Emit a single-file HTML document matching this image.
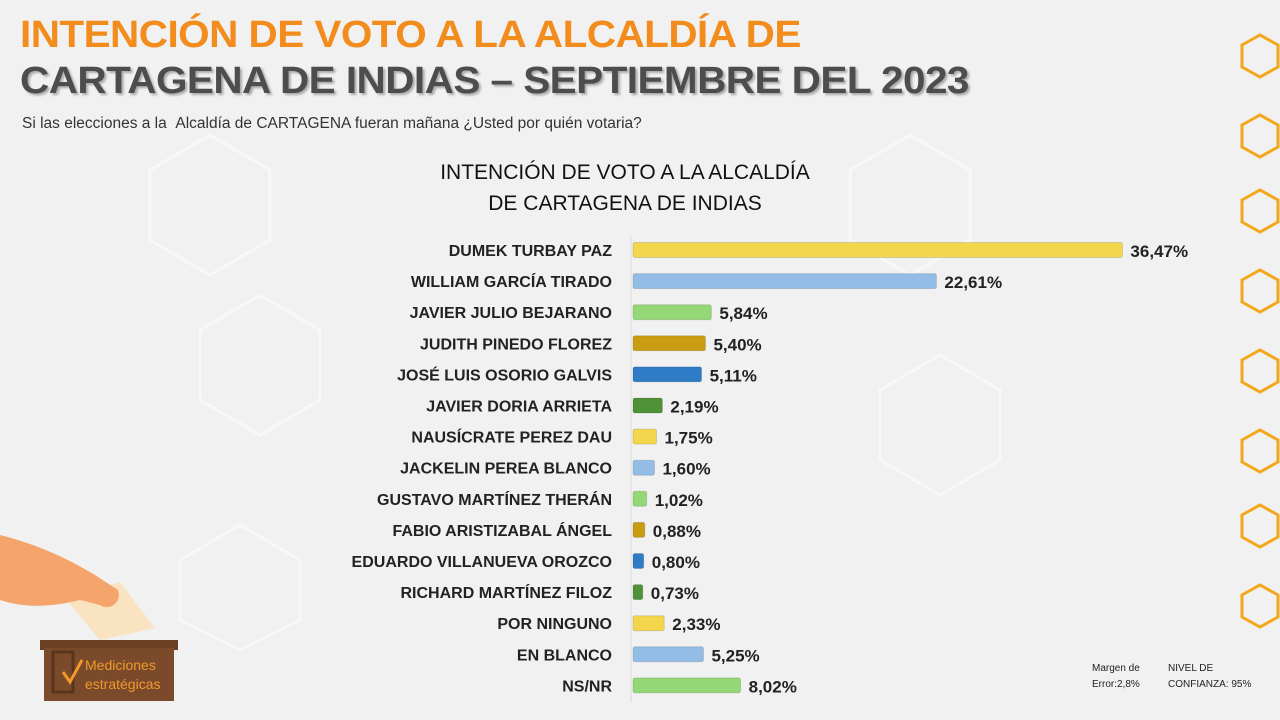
<!DOCTYPE html>
<html><head><meta charset="utf-8">
<style>
html,body{margin:0;padding:0}
body{width:1280px;height:720px;overflow:hidden;background:#f1f1f1;position:relative;font-family:"Liberation Sans",sans-serif}
.t1{position:absolute;left:20px;top:14px;font-size:38px;font-weight:bold;color:#f28c1c;letter-spacing:-0.5px;transform:scaleX(1.065);transform-origin:left}
.t2{position:absolute;left:20px;top:60px;font-size:38px;font-weight:bold;color:#4d4d4d;letter-spacing:-0.5px;transform:scaleX(1.065);transform-origin:left;text-shadow:2px 2px 2px #aaa}
.sub{position:absolute;left:22px;top:115px;font-size:15.5px;color:#333}
.ct{position:absolute;left:420px;top:157px;width:410px;text-align:center;font-size:21px;color:#111;line-height:31px}
.note{position:absolute;font-size:10px;color:#222;line-height:16px}
</style></head><body>
<svg width="1280" height="720" style="position:absolute;left:0;top:0">
<g fill="none" stroke="#ffffff" stroke-width="3" opacity="0.5">
<polygon points="200,330 260,295 320,330 320,400 260,435 200,400"/>
<polygon points="150,170 210,135 270,170 270,240 210,275 150,240"/>
<polygon points="850,170 910,135 970,170 970,240 910,275 850,240"/>
<polygon points="880,390 940,355 1000,390 1000,460 940,495 880,460"/>
<polygon points="180,560 240,525 300,560 300,620 240,650 180,620"/>
</g>
<g fill="none" stroke="#f3a81c" stroke-width="3">
<polygon points="1242,45 1260,35 1278,45 1278,67 1260,77 1242,67"/>
<polygon points="1242,125 1260,115 1278,125 1278,147 1260,157 1242,147"/>
<polygon points="1242,200 1260,190 1278,200 1278,222 1260,232 1242,222"/>
<polygon points="1242,280 1260,270 1278,280 1278,302 1260,312 1242,302"/>
<polygon points="1242,360 1260,350 1278,360 1278,382 1260,392 1242,382"/>
<polygon points="1242,440 1260,430 1278,440 1278,462 1260,472 1242,462"/>
<polygon points="1242,515 1260,505 1278,515 1278,537 1260,547 1242,537"/>
<polygon points="1242,595 1260,585 1278,595 1278,617 1260,627 1242,617"/>
</g>
<g>
<polygon points="65,598 120,582 155,628 100,640" fill="#f9e3c0"/>
<path d="M0,535 C40,545 70,560 95,575 L118,590 C122,600 112,612 100,605 L80,600 C60,605 30,610 0,600 Z" fill="#f5a56b"/>
<rect x="40" y="640" width="138" height="10" fill="#6b3f22"/>
<rect x="44" y="648" width="130" height="53" fill="#7a4a2b"/>
<rect x="53" y="652" width="20" height="40" fill="none" stroke="#5a341c" stroke-width="3"/>
<text x="85" y="670" font-size="14" fill="#f19a2a" font-family="Liberation Sans Narrow,Liberation Sans,sans-serif">Mediciones</text>
<text x="85" y="689" font-size="14" fill="#f19a2a" font-family="Liberation Sans Narrow,Liberation Sans,sans-serif">estratégicas</text>
<path d="M63,672 L70,682 L82,660" stroke="#f19a2a" stroke-width="3" fill="none"/>
</g>
</svg>
<div class="t1">INTENCIÓN DE VOTO A LA ALCALDÍA DE</div>
<div class="t2">CARTAGENA DE INDIAS – SEPTIEMBRE DEL 2023</div>
<div class="sub">Si las elecciones a la &nbsp;Alcaldía de CARTAGENA fueran mañana ¿Usted por quién votaria?</div>
<div class="ct">INTENCIÓN DE VOTO A LA ALCALDÍA<br>DE CARTAGENA DE INDIAS</div>
<div class="note" style="left:1092px;top:661px">Margen de<br>Error:2,8%</div>
<div class="note" style="left:1168px;top:661px">NIVEL DE<br>CONFIANZA: 95%</div>
<svg id="chart" width="1280" height="720" style="position:absolute;left:0;top:0"></svg>
<script>
const categories=["DUMEK TURBAY PAZ","WILLIAM GARCÍA TIRADO","JAVIER JULIO BEJARANO","JUDITH PINEDO FLOREZ","JOSÉ LUIS OSORIO GALVIS","JAVIER DORIA ARRIETA","NAUSÍCRATE PEREZ DAU","JACKELIN PEREA BLANCO","GUSTAVO MARTÍNEZ THERÁN","FABIO ARISTIZABAL ÁNGEL","EDUARDO VILLANUEVA OROZCO","RICHARD MARTÍNEZ FILOZ","POR NINGUNO","EN BLANCO","NS/NR"];
const values=[36.47,22.61,5.84,5.40,5.11,2.19,1.75,1.60,1.02,0.88,0.80,0.73,2.33,5.25,8.02];
const labels=["36,47%","22,61%","5,84%","5,40%","5,11%","2,19%","1,75%","1,60%","1,02%","0,88%","0,80%","0,73%","2,33%","5,25%","8,02%"];
const colors=["#f4d64c","#93bde6","#94d776","#c99d12","#2f7cc6","#4f9136"];
const ns="http://www.w3.org/2000/svg";
const svg=document.getElementById('chart');
const x0=633,scale=13.42,y0=250,step=31.1,bh=15;
const xs=v=>v*scale;
const ys=i=>y0+i*step;
const axis=document.createElementNS(ns,'line');
axis.setAttribute('x1',631);axis.setAttribute('x2',631);axis.setAttribute('y1',236);axis.setAttribute('y2',702);
axis.setAttribute('stroke','#d9d9d9');


svg.appendChild(axis);
categories.forEach((c,i)=>{
  const y=ys(i);
  const t=document.createElementNS(ns,'text');
  t.setAttribute('x',612);t.setAttribute('y',y+6);t.setAttribute('text-anchor','end');
  t.setAttribute('font-size','16');t.setAttribute('font-weight','bold');t.setAttribute('fill','#222');
  t.textContent=c;
  
  
  svg.appendChild(t);
  const r=document.createElementNS(ns,'rect');
  r.setAttribute('x',x0);r.setAttribute('y',y-bh/2);r.setAttribute('width',xs(values[i]));r.setAttribute('height',bh);
  r.setAttribute('rx',2);r.setAttribute('fill',colors[i%6]);
  r.setAttribute('stroke','rgba(0,0,0,0.12)');
  
  
  svg.appendChild(r);
  const v=document.createElementNS(ns,'text');
  v.setAttribute('x',x0+xs(values[i])+8);v.setAttribute('y',y+7);
  v.setAttribute('font-size','17');v.setAttribute('font-weight','bold');v.setAttribute('fill','#222');
  v.textContent=labels[i];
  
  
  svg.appendChild(v);
});
</script>
</body></html>
